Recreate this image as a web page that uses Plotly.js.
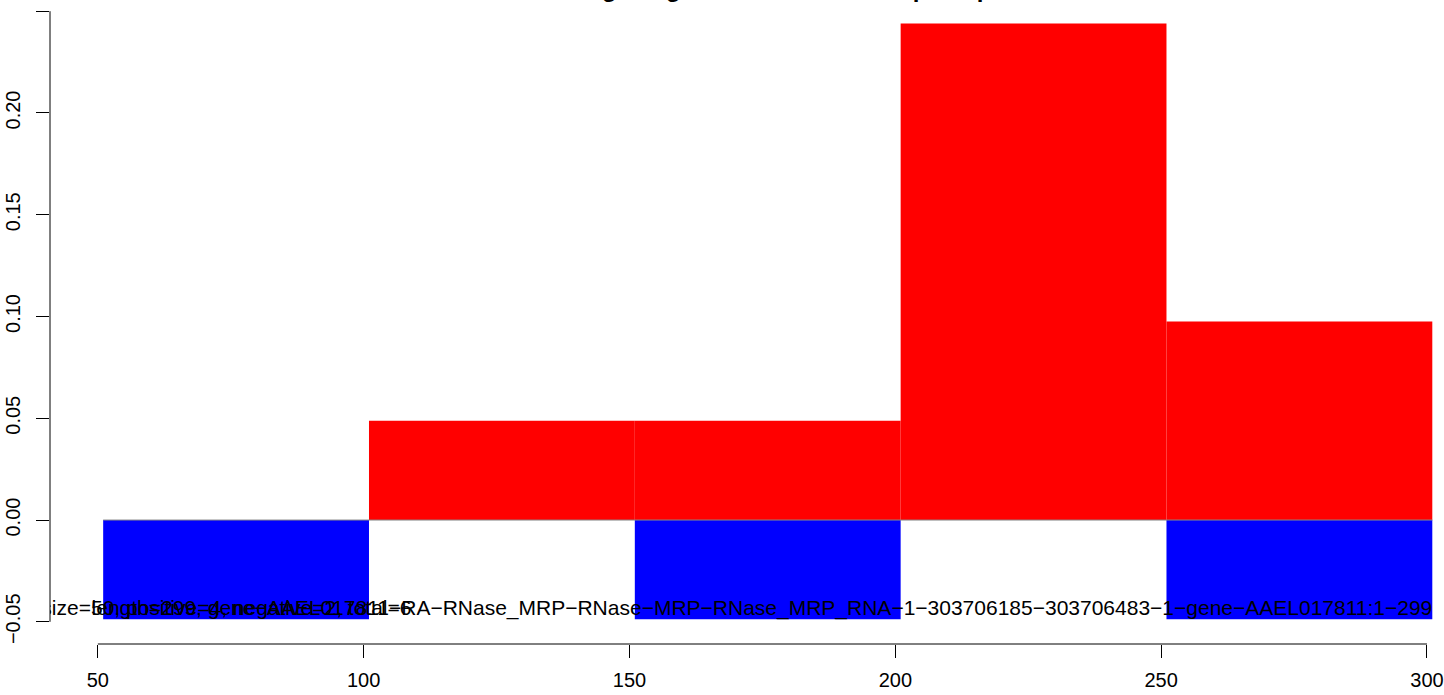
<!DOCTYPE html>
<html>
<head>
<meta charset="utf-8">
<script src="https://cdn.plot.ly/plotly-3.0.1.min.js"></script>
<style>html,body{margin:0;padding:0;background:#fff;}#chart{width:1444px;height:695px;}</style>
</head>
<body>
<div id="chart"></div>
<script>
// ---- data ----
const binStarts = [51, 101, 151, 201, 251];
const binWidth = 50;
const positiveValues = [0, 0.0488, 0.0488, 0.2439, 0.0976];
const negativeValues = [-0.0488, 0, -0.0488, 0, -0.0488];
const xTicks = [50, 100, 150, 200, 250, 300];
const yTicks = [-0.05, 0, 0.05, 0.10, 0.15, 0.20, 0.25];
const yTickText = ["\u22120.05", "0.00", "0.05", "0.10", "0.15", "0.20", "0.25"];
const titleText = "Reads along the gene in bins of 50 nt: pos up/minus down";
const infoText = "binsize=50, positive=4, negative=2, total=6";
const idText = "length=299, gene\u2212AAEL017811\u2212RA\u2212RNase_MRP\u2212RNase\u2212MRP\u2212RNase_MRP_RNA\u22121\u2212303706185\u2212303706483\u22121\u2212gene\u2212AAEL017811:1\u2212299";

// ---- placement constants ----
const textY = -0.0442;
const infoX = 34.1;
const idX = 301;
const font = "Liberation Sans, Arial, Helvetica, sans-serif";

const traces = [
  {type: "bar", x: binStarts, y: positiveValues, width: binWidth, offset: 0,
   marker: {color: "#ff0000", line: {width: 0}}, hoverinfo: "skip"},
  {type: "bar", x: binStarts, y: negativeValues, width: binWidth, offset: 0,
   marker: {color: "#0000ff", line: {width: 0}}, hoverinfo: "skip"},
  {type: "scatter", mode: "text", x: [infoX], y: [textY], text: [infoText],
   textposition: "middle right", textfont: {family: font, size: 21, color: "#000"},
   cliponaxis: true, hoverinfo: "skip"},
  {type: "scatter", mode: "text", x: [idX], y: [textY], text: [idText],
   textposition: "middle left", textfont: {family: font, size: 21, color: "#000"},
   cliponaxis: true, hoverinfo: "skip"}
];

const lastBinEnd = binStarts[binStarts.length - 1] + binWidth;
const layout = {
  width: 1444, height: 695,
  margin: {l: 50, r: 0, t: 0, b: 51, pad: 0},
  paper_bgcolor: "#fff", plot_bgcolor: "#fff",
  showlegend: false, hovermode: false, barmode: "overlay",
  font: {family: font, color: "#000"},
  xaxis: {range: [41, 303.2], tickvals: xTicks, ticktext: xTicks.map(String),
          ticks: "outside", ticklen: 13, tickwidth: 1, tickcolor: "#000",
          ticklabelstandoff: 5,
          showgrid: false, zeroline: false, showline: false,
          tickfont: {family: font, size: 20, color: "#000"}},
  yaxis: {range: [-0.0609, 0.2555], tickvals: yTicks, ticktext: yTickText,
          ticks: "outside", ticklen: 13, tickwidth: 1, tickcolor: "#000",
          ticklabelstandoff: 8,
          tickangle: -90, showgrid: false, zeroline: false, showline: false,
          tickfont: {family: font, size: 20, color: "#000"}},
  shapes: [
    {type: "line", xref: "x", yref: "paper", x0: xTicks[0], x1: xTicks[xTicks.length - 1], y0: 0, y1: 0,
     line: {color: "#000", width: 1}},
    {type: "line", xref: "paper", yref: "y", x0: 0, x1: 0, y0: yTicks[0], y1: yTicks[yTicks.length - 1],
     line: {color: "#000", width: 1}},
    {type: "line", xref: "x", yref: "y", x0: binStarts[0], x1: lastBinEnd, y0: 0, y1: 0,
     line: {color: "#888", width: 1}, layer: "above"}
  ],
  annotations: [
    {text: "<b>" + titleText + "</b>", xref: "paper", yref: "paper", x: 0.3027, y: 1,
     xanchor: "left", yanchor: "bottom", yshift: -4, showarrow: false,
     font: {family: font, size: 24, color: "#000"}}
  ]
};

Plotly.newPlot("chart", traces, layout, {displayModeBar: false, staticPlot: true});
</script>
</body>
</html>
